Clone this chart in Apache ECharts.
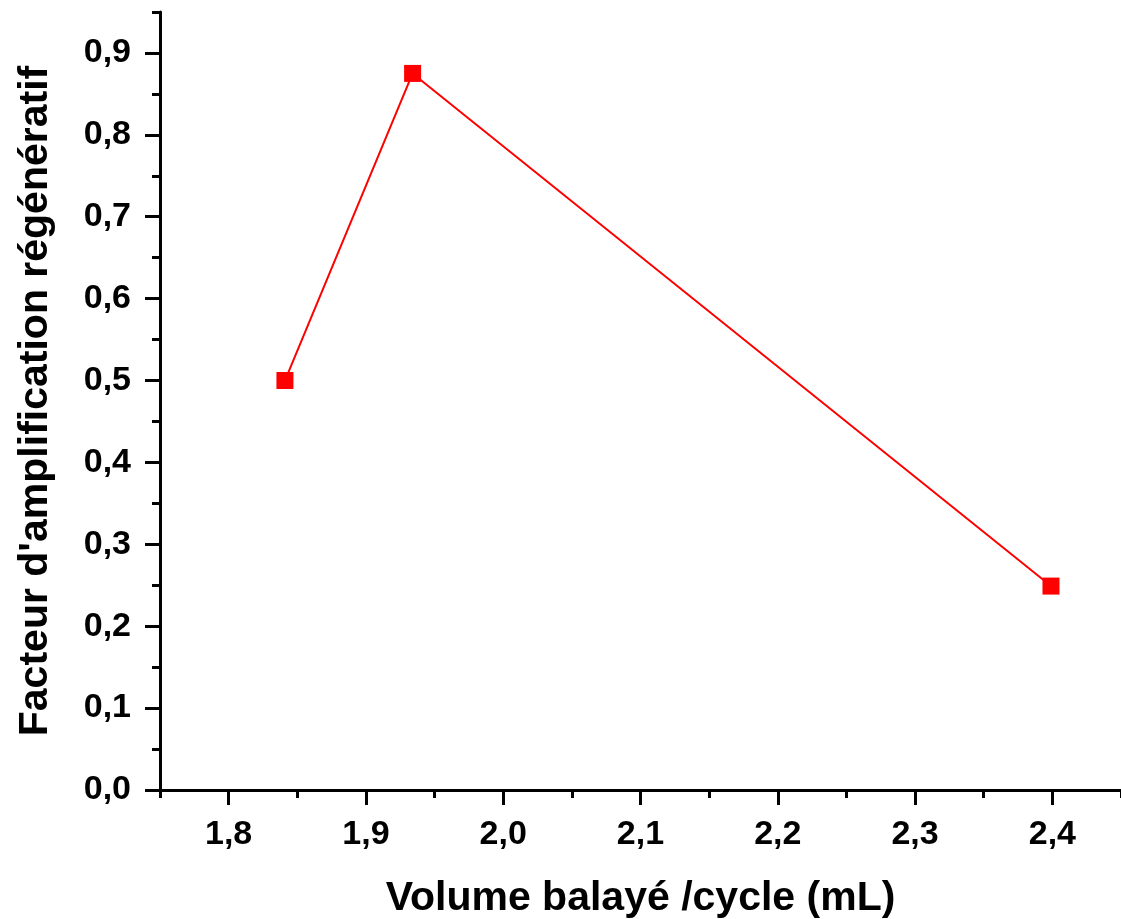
<!DOCTYPE html>
<html>
<head>
<meta charset="utf-8">
<script src="https://cdn.jsdelivr.net/npm/echarts@6/dist/echarts.min.js"></script>
<style>
  html, body { margin: 0; padding: 0; background: #fff; }
  #chart { width: 1121px; height: 919px; }
</style>
</head>
<body>
<div id="chart"></div>
<script>
// values
const volume = [1.841, 1.934, 2.399];
const amplification = [0.5, 0.875, 0.249];

const xTicks = [1.8, 1.9, 2.0, 2.1, 2.2, 2.3, 2.4];
const xMinorTicks = [1.75, 1.85, 1.95, 2.05, 2.15, 2.25, 2.35, 2.45];
const yTicks = [0, 0.1, 0.2, 0.3, 0.4, 0.5, 0.6, 0.7, 0.8, 0.9];
const yMinorTicks = [0.05, 0.15, 0.25, 0.35, 0.45, 0.55, 0.65, 0.75, 0.85, 0.95];

const font = "'Liberation Sans', Arial, sans-serif";
const fmt = v => v.toFixed(1).replace(".", ",");

const black = { color: "#000", width: 3 };

const chart = echarts.init(document.getElementById("chart"));
chart.setOption({
  animation: false,
  grid: {
    left: 160,
    right: 0,
    top: 12,
    bottom: 129,
    containLabel: false,
    outerBoundsMode: "none"
  },
  xAxis: [
    {
      type: "value",
      position: "bottom",
      min: 1.75,
      max: 2.45,
      name: "Volume balayé /cycle (mL)",
      nameLocation: "middle",
      nameGap: 88,
      nameTextStyle: { fontFamily: font, fontWeight: "bold", fontSize: 41, color: "#000" },
      axisLine: { onZero: false, lineStyle: black },
      axisTick: { customValues: xTicks, length: 15, lineStyle: black },
      axisLabel: {
        customValues: xTicks,
        formatter: fmt,
        margin: 28,
        fontFamily: font,
        fontWeight: "bold",
        fontSize: 34,
        color: "#000"
      },
      splitLine: { show: false }
    },
    {
      // minor ticks only
      type: "value",
      position: "bottom",
      min: 1.75,
      max: 2.45,
      axisLine: { show: false },
      axisTick: { customValues: xMinorTicks, length: 8, lineStyle: black },
      axisLabel: { show: false },
      splitLine: { show: false }
    }
  ],
  yAxis: [
    {
      type: "value",
      position: "left",
      min: 0,
      max: 0.95,
      name: "Facteur d'amplification régénératif",
      nameLocation: "middle",
      nameGap: 104,
      nameTextStyle: { fontFamily: font, fontWeight: "bold", fontSize: 41, color: "#000" },
      axisLine: { show: true, onZero: false, lineStyle: black },
      axisTick: { show: true, customValues: yTicks, length: 15, lineStyle: black },
      axisLabel: {
        customValues: yTicks,
        formatter: fmt,
        margin: 29,
        fontFamily: font,
        fontWeight: "bold",
        fontSize: 34,
        color: "#000"
      },
      splitLine: { show: false }
    },
    {
      type: "value",
      position: "left",
      min: 0,
      max: 0.95,
      axisLine: { show: false },
      axisTick: { show: true, customValues: yMinorTicks, length: 8, lineStyle: black },
      axisLabel: { show: false },
      splitLine: { show: false }
    }
  ],
  series: [
    {
      type: "line",
      xAxisIndex: 0,
      yAxisIndex: 0,
      data: volume.map((v, i) => [v, amplification[i]]),
      symbol: "rect",
      symbolSize: 17,
      itemStyle: { color: "#ff0000" },
      lineStyle: { color: "#ff0000", width: 2 }
    }
  ]
});
</script>
</body>
</html>
